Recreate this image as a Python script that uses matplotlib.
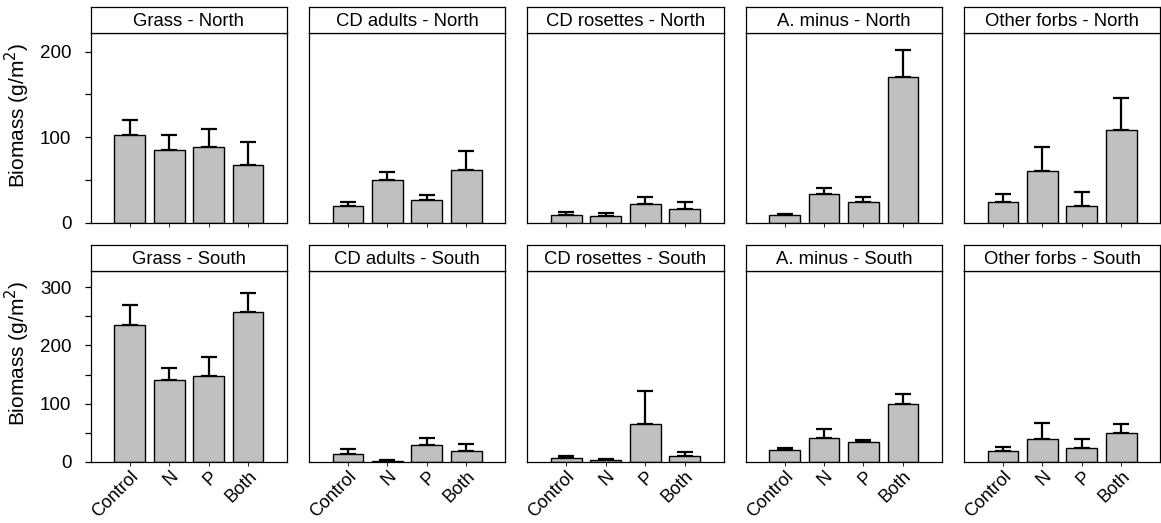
import matplotlib.pyplot as plt

plt.rcParams['font.family'] = ['Liberation Sans', 'DejaVu Sans']

treatments = ['Control', 'N', 'P', 'Both']
groups = ['Grass', 'CD adults', 'CD rosettes', 'A. minus', 'Other forbs']
regions = ['North', 'South']

# mean biomass and upper error (SE) per group
north_mean = {
    'Grass':       [102, 85, 89, 68],
    'CD adults':   [19, 50, 27, 62],
    'CD rosettes': [9, 8, 22, 16],
    'A. minus':    [9, 33, 24, 170],
    'Other forbs': [24, 61, 20, 108],
}
north_err = {
    'Grass':       [18, 17, 21, 26],
    'CD adults':   [5, 9, 5, 22],
    'CD rosettes': [3.5, 3, 8.5, 8],
    'A. minus':    [1.5, 8, 5.5, 32],
    'Other forbs': [10, 28, 16, 38],
}
south_mean = {
    'Grass':       [235, 140, 147, 258],
    'CD adults':   [14, 2, 29, 19],
    'CD rosettes': [6, 3, 65, 10],
    'A. minus':    [20, 40, 34, 100],
    'Other forbs': [19, 39, 23, 49],
}
south_err = {
    'Grass':       [34, 21, 33, 33],
    'CD adults':   [8, 1, 12, 12],
    'CD rosettes': [4, 2, 56, 7],
    'A. minus':    [3, 17, 3, 17],
    'Other forbs': [6, 28, 16, 16],
}

row_ylim = [221.5, 328.6]
row_ticks = [[0, 50, 100, 150, 200], [0, 50, 100, 150, 200, 250, 300]]

fig = plt.figure(figsize=(11.61, 5.23), dpi=100)
W, H = 1161, 523

left0 = 90.7
pw = 196.3
step = 218.3
rows = [  # (strip top, plot top, plot bottom) in pixels
    (7.3, 33.3, 222.7),
    (244.7, 270.7, 461.7),
]

x = list(range(4))
for r, region in enumerate(regions):
    stop, ptop, pbot = rows[r]
    means = north_mean if region == 'North' else south_mean
    errs = north_err if region == 'North' else south_err
    for c, g in enumerate(groups):
        lx = (left0 + c * step) / W
        ax = fig.add_axes([lx, (H - pbot) / H, pw / W, (pbot - ptop) / H])
        ax.bar(x, means[g], width=0.78, color='#c0c0c0', edgecolor='black',
               linewidth=1.0, zorder=2)
        ax.errorbar(x, means[g], yerr=[[0] * 4, errs[g]], fmt='none',
                    ecolor='black', elinewidth=1.6, capsize=6, capthick=1.6,
                    zorder=1)
        ax.set_xlim(-0.99, 3.99)
        ax.set_ylim(0, row_ylim[r])
        for s in ax.spines.values():
            s.set_linewidth(0.9)
        ax.set_xticks(x)
        if r == 1:
            ax.set_xticklabels(treatments, rotation=45, ha='right',
                               rotation_mode='anchor', fontsize=13)
        else:
            ax.set_xticklabels([])
        ax.tick_params(axis='x', length=3, width=0.6, pad=1.5)
        if c == 0:
            ticks = row_ticks[r]
            ax.set_yticks(ticks)
            ax.set_yticklabels([str(t) if t % 100 == 0 else '' for t in ticks],
                               fontsize=13.5)
            ax.tick_params(axis='y', length=4, width=0.9, pad=10)
            ax.set_ylabel('Biomass (g/m$^2$)', fontsize=15)
            ax.yaxis.set_label_coords(-0.30, 0.568)
        else:
            ax.set_yticks([])

        # strip header
        sax = fig.add_axes([lx, (H - ptop) / H, pw / W, (ptop - stop) / H])
        sax.set_xticks([])
        sax.set_yticks([])
        for s in sax.spines.values():
            s.set_linewidth(0.9)
        sax.text(0.5, 0.45, f'{g} - {region}', ha='center', va='center',
                 fontsize=13.3, transform=sax.transAxes)

fig.savefig('out.png', dpi=100)
